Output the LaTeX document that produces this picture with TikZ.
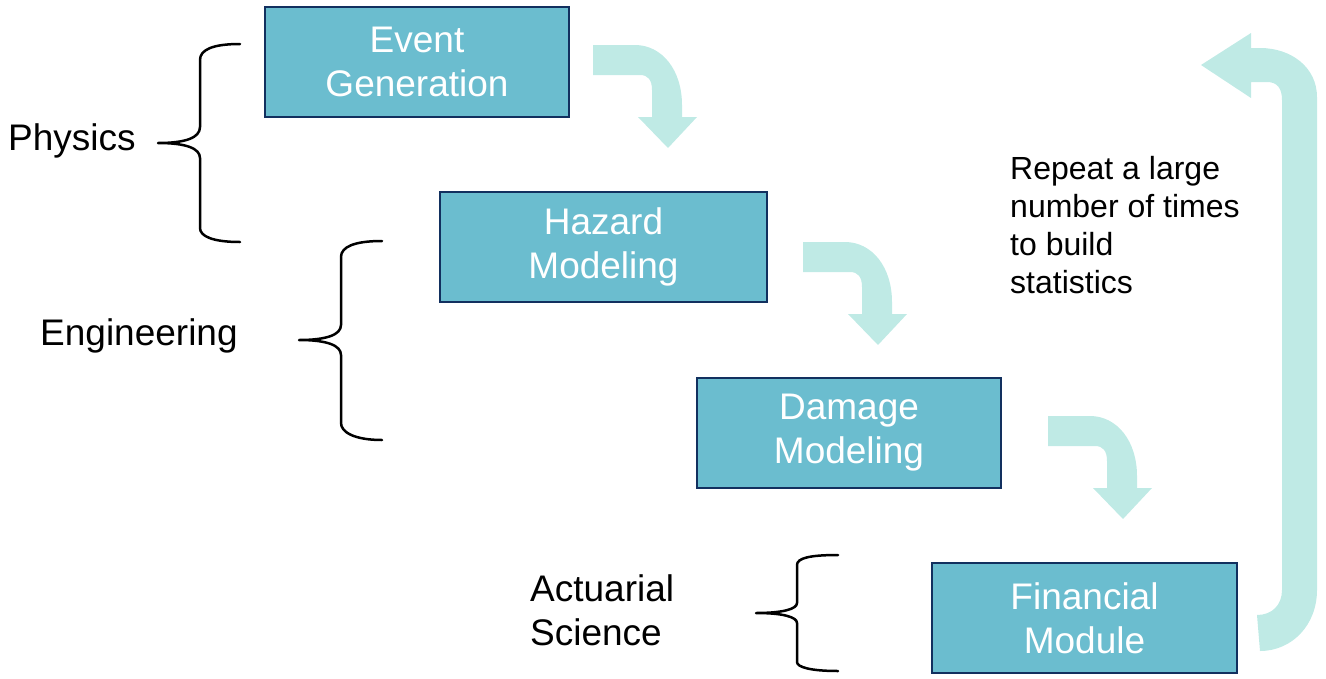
\documentclass[tikz,border=0pt]{standalone}
\usepackage{fontspec}
\setmainfont{Liberation Sans}
\definecolor{boxfill}{RGB}{107,189,207}
\definecolor{boxline}{RGB}{18,48,95}
\definecolor{arrowfill}{RGB}{191,234,229}
\tikzset{
  stepbox/.style={draw=boxline, line width=2.2pt, fill=boxfill, minimum width=304pt, minimum height=110pt,
    inner sep=0pt, text=white, align=center, font=\fontsize{37}{44}\selectfont},
  lbl/.style={inner sep=0pt, text=black, align=left, font=\fontsize{37}{44}\selectfont},
  bracestyle/.style={draw=black, line width=2.5pt, line cap=round, line join=round},
  flowarrow/.style={fill=arrowfill, draw=none},
  pics/bentarrow/.style={code={
    \path[flowarrow] (0,0) -- (42,0) .. controls (69,0) and (89,25) .. (89,60) -- (89,72)
      -- (104,72) -- (75,103) -- (45,72) -- (59,72) -- (59,45)
      .. controls (59,35) and (55,30) .. (47,30) -- (0,30) -- cycle;
  }}
}
\begin{document}
\begin{tikzpicture}[x=1pt,y=-1pt]
\useasboundingbox (0,0) rectangle (1326,678);

% boxes
\node[stepbox] (ev) at (417,62) {Event\\Generation};
\node[stepbox, minimum width=327pt] (hz) at (603.5,247) {Hazard\\Modeling};
\node[stepbox] (dm) at (849,433) {Damage\\Modeling};
\node[stepbox, minimum width=305pt] (fm) at (1084.5,618) {Financial\\Module};

% bent arrows between boxes
\pic at (593,45) {bentarrow};
\pic at (803,242) {bentarrow};
\pic at (1048,416) {bentarrow};

% big return arrow
\path[flowarrow] (1257,615) .. controls (1272,615) and (1282,605) .. (1282,590)
  -- (1282,100) .. controls (1282,88) and (1277,82) .. (1267,82) -- (1251,82) -- (1251,98)
  -- (1201,65) -- (1251,33) -- (1251,48) -- (1260,48)
  .. controls (1292,48) and (1317,68) .. (1317,97) -- (1317,590)
  .. controls (1317,625) and (1292,651) .. (1260,651) -- cycle;

% labels
\node[lbl, anchor=west] (phys) at (8,141) {Physics};
\node[lbl, anchor=west] (eng) at (40,336) {Engineering};
\node[lbl, anchor=west] (act) at (530,610) {Actuarial\\Science};
\node[lbl, anchor=north west, font=\fontsize{32}{38}\selectfont] (rep) at (1010,156)
  {Repeat a large\\number of times\\to build\\statistics};

% braces
\draw[bracestyle] (240,44) .. controls (212,44) and (200,50) .. (200,60) -- (200,127)
  .. controls (200,138) and (185,143) .. (158,143)
  .. controls (185,143) and (200,148) .. (200,158) -- (200,228)
  .. controls (200,236) and (212,242) .. (240,242);
\draw[bracestyle] (382,241) .. controls (354,241) and (341,247) .. (341,257) -- (341,325)
  .. controls (341,335) and (326,340) .. (299,340)
  .. controls (326,340) and (341,345) .. (341,355) -- (341,423)
  .. controls (341,432) and (354,440) .. (382,440);
\draw[bracestyle] (838,555) .. controls (810,555) and (797,558) .. (797,565) -- (797,603)
  .. controls (797,609) and (783,613) .. (756,613)
  .. controls (783,613) and (797,617) .. (797,623) -- (797,662)
  .. controls (797,667) and (810,671) .. (838,671);
\end{tikzpicture}
\end{document}
